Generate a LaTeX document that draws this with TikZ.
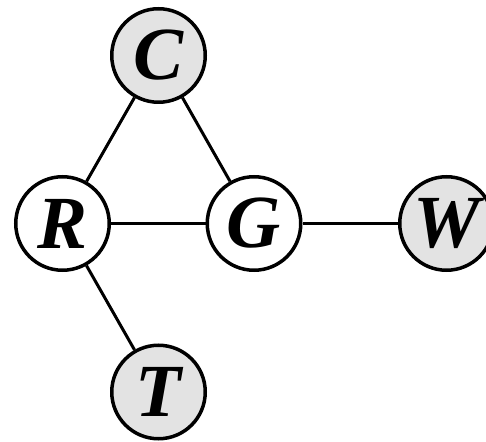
\documentclass[tikz,border=0pt]{standalone}
\usepackage{fontspec}
\setmainfont{Liberation Serif}
\begin{document}
\begin{tikzpicture}[x=1pt,y=1pt,
  var/.style={circle, draw=black, line width=3.5pt, minimum size=93.5pt, inner sep=0pt,
    font=\fontsize{75}{75}\selectfont\bfseries\itshape},
  obs/.style={var, fill=gray!22},
  hid/.style={var, fill=white},
  link/.style={line width=3pt}]
\useasboundingbox (0,0) rectangle (486,441);
\clip (0,0) rectangle (486,441);
\node[obs] (C) at (158.5,385.5) {C};
\node[hid] (R) at (62.5,217.5) {R};
\node[hid] (G) at (254,217.5) {G};
\node[obs] (W) at (446.5,217.5) {W};
\node[obs] (T) at (158.5,49) {T};
\draw[link] (C) -- (R);
\draw[link] (C) -- (G);
\draw[link] (R) -- (G);
\draw[link] (G) -- (W);
\draw[link] (R) -- (T);
\end{tikzpicture}
\end{document}
